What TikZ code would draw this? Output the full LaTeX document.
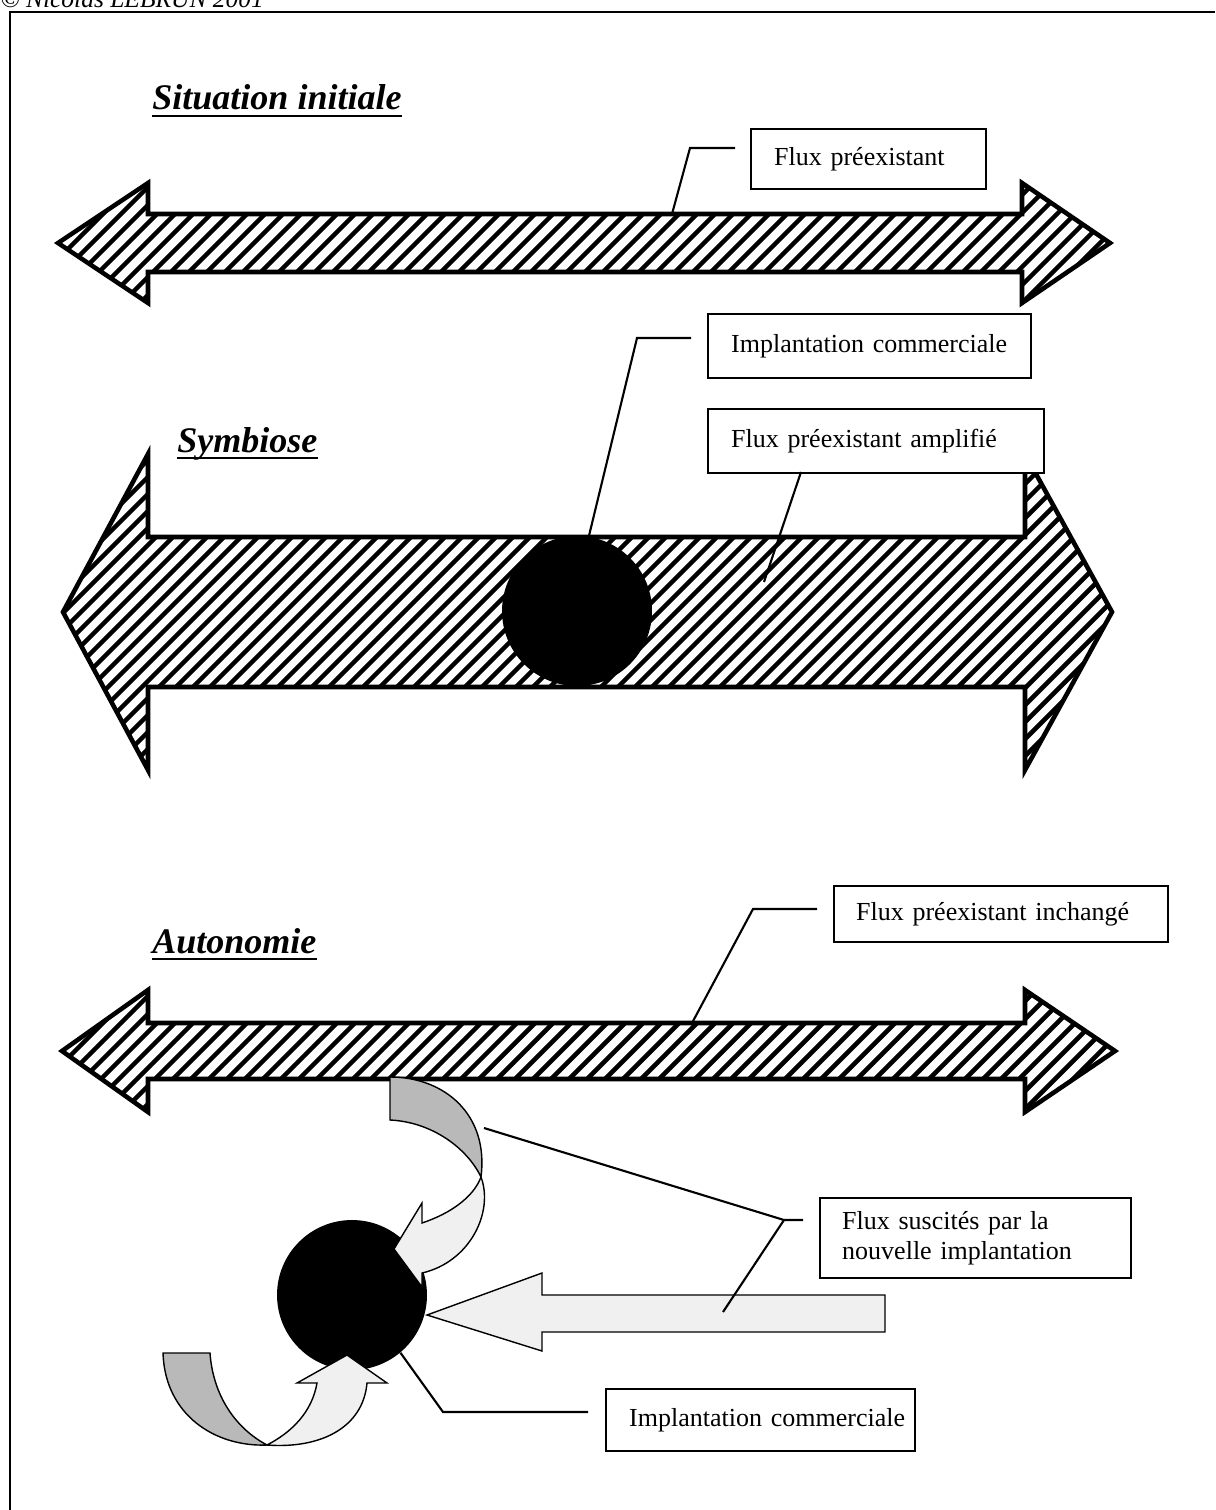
\documentclass[tikz,border=0pt]{standalone}
\usepackage{fontspec}
\setmainfont{Liberation Serif}
\newcommand\lblfont{\fontsize{14.8}{17.5}\selectfont}
\newcommand\headfont{\fontsize{20.5}{24}\selectfont\bfseries\itshape}
\tikzset{
  hatch/.style={line width=2.6pt},
  flowline/.style={line width=2.6pt, line join=miter},
  lbl/.style={draw, line width=1.4pt, fill=white, anchor=north west, align=left,
    inner ysep=0pt, inner xsep=0.46cm, font=\lblfont},
  leader/.style={line width=1.2pt},
  head/.style={anchor=base west, inner sep=0pt, font=\headfont},
  darkband/.style={draw, line width=0.8pt, fill=gray!55},
  lightband/.style={draw, line width=0.8pt, fill=gray!12},
  spot/.style={circle, fill=black, inner sep=0pt, minimum size=3cm}
}
% hatched double arrow: left tip, left back, right back, right tip, centre y, half shaft, half head, hatch step
\newcommand\hatcharrow[8]{%
  \begin{scope}
    \clip (#1,#5) -- (#2,#5-#7) -- (#2,#5-#6) -- (#3,#5-#6) -- (#3,#5-#7) -- (#4,#5)
      -- (#3,#5+#7) -- (#3,#5+#6) -- (#2,#5+#6) -- (#2,#5+#7) -- cycle;
    \foreach \j in {0,...,100}
      \draw[hatch] (-400+\j*#8,#5+#7) -- (-400+\j*#8+2*#7,#5-#7);
  \end{scope}
  \draw[flowline] (#1,#5) -- (#2,#5-#7) -- (#2,#5-#6) -- (#3,#5-#6) -- (#3,#5-#7) -- (#4,#5)
    -- (#3,#5+#7) -- (#3,#5+#6) -- (#2,#5+#6) -- (#2,#5+#7) -- cycle;
}
\begin{document}
\begin{tikzpicture}[x=0.02cm,y=-0.02cm]
  \useasboundingbox (0,0) rectangle (1215,1510);
  % page frame and credit line
  \draw[line width=1.7pt] (10,1510) -- (10,12) -- (1215,12);
  \node[anchor=base west, inner sep=0pt, font=\fontsize{14.5}{16}\selectfont\itshape] (credit) at (0,8) {© Nicolas LEBRUN 2001};

  % headings
  \node[head] (hsit) at (152,110) {Situation initiale};
  \node[head] (hsym) at (177,452) {Symbiose};
  \node[head] (haut) at (152,953) {Autonomie};
  \foreach \h in {hsit,hsym,haut}
    \draw[line width=1.3pt] ([yshift=-3.5pt]\h.base west) -- ([yshift=-3.5pt]\h.base east);

  % situation initiale
  \hatcharrow{58}{148}{1022}{1110}{243}{29}{60}{18}
  \node[lbl, text width=3.78cm, minimum height=1.2cm] (flux1) at (750,128) {\mbox{Flux préexistant}};
  \coordinate (f1a) at (735,148);
  \coordinate (f1b) at (690,148);
  \coordinate (f1c) at (672,214);
  \draw[leader] (f1a) -- (f1b) -- (f1c);

  % symbiose
  \hatcharrow{63}{148}{1025}{1112}{612}{75}{158}{17}
  \node[spot] (cA) at (577,611) {};
  \node[lbl, text width=5.54cm, minimum height=1.28cm] (impl1) at (707,313) {\mbox{Implantation commerciale}};
  \node[lbl, text width=5.80cm, minimum height=1.28cm] (ampl) at (707,408) {\mbox{Flux préexistant amplifié}};
  \coordinate (i1a) at (691,338);
  \coordinate (i1b) at (637,338);
  \draw[leader] (i1a) -- (i1b) -- (cA.81);
  \coordinate (a1a) at (801,472);
  \coordinate (a1b) at (764,582);
  \draw[leader] (a1a) -- (a1b);

  % autonomie
  \hatcharrow{62}{148}{1025}{1115}{1051}{28}{61}{18}
  \node[lbl, inner xsep=0.44cm, text width=5.80cm, minimum height=1.12cm] (inch) at (833,885) {\mbox{Flux préexistant inchangé}};
  \coordinate (n1a) at (817,909);
  \coordinate (n1b) at (753,909);
  \coordinate (n1c) at (692,1023);
  \draw[leader] (n1a) -- (n1b) -- (n1c);

  \node[spot] (cB) at (352,1295) {};
  % straight induced flow
  \draw[lightband] (427,1315) -- (542,1273) -- (542,1295) -- (885,1295) -- (885,1332)
    -- (542,1332) -- (542,1351) -- cycle;
  % upper curled flow
  \coordinate (twA) at (481,1177);
  \draw[darkband] (390,1077) .. controls (445,1077) and (489,1115) .. (twA)
    .. controls (467,1148) and (432,1122) .. (390,1120) -- cycle;
  \draw[lightband] (twA) .. controls (494,1212) and (470,1262) .. (422,1273) -- (422,1287)
    -- (394,1249) -- (422,1203) -- (422,1223) .. controls (452,1213) and (474,1196) .. (twA) -- cycle;
  % lower curled flow
  \coordinate (twB) at (267,1445);
  \draw[darkband] (163,1353) -- (210,1353) .. controls (213,1395) and (235,1428) .. (twB)
    .. controls (215,1447) and (165,1415) .. (163,1353) -- cycle;
  \draw[lightband] (twB) .. controls (320,1449) and (363,1428) .. (367,1383) -- (387,1383)
    -- (347,1355) -- (297,1383) -- (317,1383) .. controls (312,1412) and (292,1432) .. (twB) -- cycle;

  \node[lbl, inner xsep=0.44cm, text width=5.34cm, minimum height=1.6cm] (susc) at (819,1197)
    {\makebox[5.34cm][s]{Flux suscités par la}\\nouvelle implantation};
  \coordinate (s1a) at (803,1220);
  \coordinate (s1b) at (784,1220);
  \coordinate (sA) at (484,1128);
  \coordinate (sB) at (723,1312);
  \draw[leader] (s1a) -- (s1b) -- (sA);
  \draw[leader] (s1b) -- (sB);

  \node[lbl, text width=5.26cm, minimum height=1.24cm] (impl2) at (605,1388) {\mbox{Implantation commerciale}};
  \coordinate (i2a) at (443,1412);
  \coordinate (i2b) at (588,1412);
  \draw[leader] (cB.-50) -- (i2a) -- (i2b);
\end{tikzpicture}
\end{document}
